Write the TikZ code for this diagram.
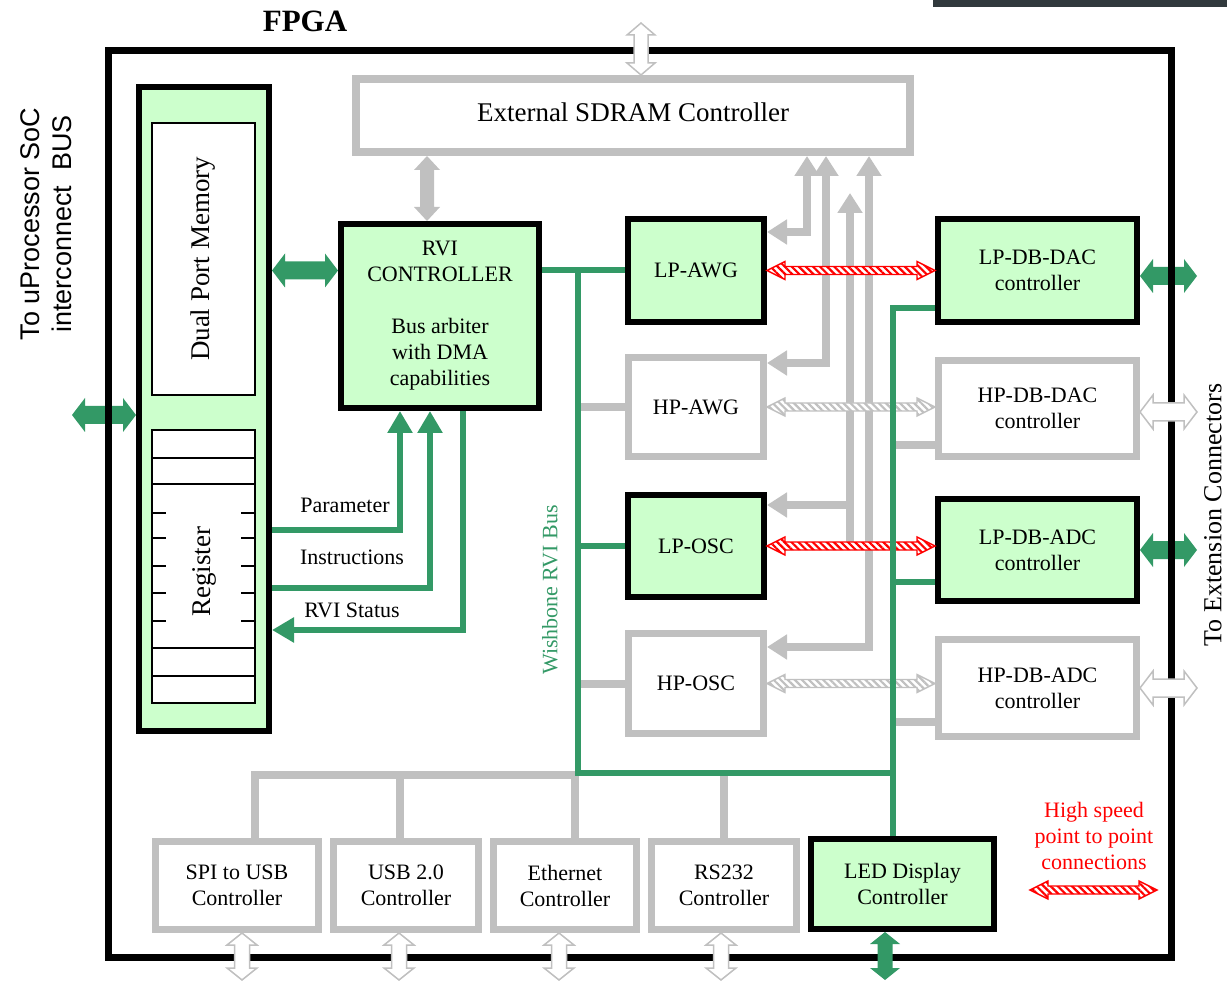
\documentclass[tikz,border=0pt]{standalone}
\usepackage{fontspec}
\setmainfont{Liberation Serif}
\newfontfamily\arialfont{Liberation Sans}
\usetikzlibrary{arrows.meta,calc,patterns.meta,backgrounds}
\definecolor{boxgreen}{HTML}{CCFFCC}
\definecolor{busgreen}{HTML}{339966}
\definecolor{linegrey}{HTML}{C0C0C0}
\definecolor{barink}{HTML}{31393D}

% fat double arrow: [style]{from}{to}{head length}{head half width}{shaft half width}
\newcommand\fatarr[6][]{%
  \coordinate (faS) at #2;
  \coordinate (faE) at #3;
  \coordinate (faA) at ($(faS)!#4!(faE)$);
  \coordinate (faB) at ($(faE)!#4!(faS)$);
  \path[#1] (faS) -- ($(faA)!#5!90:(faE)$) -- ($(faA)!#6!90:(faE)$)
    -- ($(faB)!#6!-90:(faS)$) -- ($(faB)!#5!-90:(faS)$) -- (faE)
    -- ($(faB)!#5!90:(faS)$) -- ($(faB)!#6!90:(faS)$)
    -- ($(faA)!#6!-90:(faE)$) -- ($(faA)!#5!-90:(faE)$) -- cycle;}

\begin{document}
\begin{tikzpicture}[
  x=1pt, y=-1pt,
  font=\fontsize{22}{26}\selectfont,
  lpbox/.style={draw=black, line width=6pt, fill=boxgreen, align=center, inner sep=0pt},
  hpbox/.style={draw=linegrey, line width=7pt, fill=white, align=center, inner sep=0pt},
  sz/.style 2 args={minimum width=#1pt, minimum height=#2pt},
  bus/.style={draw=busgreen, line width=6pt},
  greyln/.style={draw=linegrey, line width=8pt},
  greyarr/.style={greyln, -{Triangle[length=20pt, width=24pt]}},
  greyarrs/.style={greyln, {Triangle[length=20pt, width=24pt]}-{Triangle[length=20pt, width=24pt]}},
  busarr/.style={bus, -{Triangle[length=22pt, width=24pt]}},
  fatgreen/.style={fill=busgreen},
  fatout/.style={draw=linegrey, line width=1.5pt, fill=white},
  fatgrey/.style={fill=linegrey},
  hsarr/.style={draw=red, line width=1.4pt, preaction={fill=white},
    pattern={Lines[angle=-45, distance=5pt, line width=2.2pt]}, pattern color=red},
  hsgrey/.style={hsarr, draw=linegrey, pattern color=linegrey}
]

\useasboundingbox (0,0) rectangle (1227,981);
\fill[barink] (933,0) rectangle (1227,7);

% outside labels
\node[font=\arialfont\fontsize{27}{32}\selectfont, rotate=90, align=center] (soclbl)
  at (46,224) {To uProcessor SoC\\interconnect~ BUS};
\node[font=\fontsize{26}{30}\selectfont, rotate=90] (extlbl) at (1213,515) {To Extension Connectors};
\node[font=\bfseries\fontsize{31}{36}\selectfont] (fpgalbl) at (305,21) {FPGA};

\node[draw=black, line width=7pt, sz={1063}{906}] (fpga) at (639.5,504) {};

% memory panel
\node[lpbox, sz={130}{644}] (panel) at (204,409) {};
\node[draw=black, line width=2pt, fill=white, sz={103}{272}] (dpm) at (203.5,259) {};
\node[rotate=90, font=\fontsize{27}{30}\selectfont] (dpmtxt) at (dpm) {Dual Port Memory};
\node[draw=black, line width=2pt, fill=white, sz={103}{273}] (reg) at (203.5,566.5) {};
\foreach \y in {458,484,648,676}
  \draw[line width=2pt] (reg.west |- 0,\y) -- (reg.east |- 0,\y);
\foreach \y in {513,538,566,593,621} {
  \draw[line width=2pt] (reg.west |- 0,\y) -- ++(15,0);
  \draw[line width=2pt] (reg.east |- 0,\y) -- ++(-15,0);
}
\node[rotate=90, font=\fontsize{27}{30}\selectfont] (regtxt) at (204,572) {Register};

\node[lpbox, sz={198}{184}] (rvi) at (440,316)
  {RVI\\CONTROLLER\\[26pt]Bus arbiter\\with DMA\\capabilities};
\node[hpbox, line width=8pt, sz={554}{73}, font=\fontsize{27}{30}\selectfont] (sdram)
  at (633,115.5) {\raisebox{6pt}{External SDRAM Controller}};

% generators and daughter boards
\node[lpbox, sz={136}{103}] (lpawg) at (696,270.5) {LP-AWG};
\node[hpbox, sz={135}{99}]  (hpawg) at (696,407)   {HP-AWG};
\node[lpbox, sz={136}{102}] (lposc) at (696,546)   {LP-OSC};
\node[hpbox, sz={135}{100}] (hposc) at (696,683.5) {HP-OSC};
\node[lpbox, sz={199}{103}] (lpdac) at (1037.5,270.5) {LP-DB-DAC\\controller};
\node[hpbox, sz={198}{96}]  (hpdac) at (1037.5,408.5) {HP-DB-DAC\\controller};
\node[lpbox, sz={199}{102}] (lpadc) at (1037.5,550)   {LP-DB-ADC\\controller};
\node[hpbox, sz={198}{97}]  (hpadc) at (1037.5,688)   {HP-DB-ADC\\controller};

% peripherals
\foreach \n/\x/\w/\t in {spi/237/163/{SPI to USB\\Controller}, usb/406/145/{USB 2.0\\Controller},
                         eth/565/143/{Ethernet\\Controller}, rs/724/145/{RS232\\Controller}}
  \node[hpbox, sz={\w}{88}] (\n) at (\x,885.5) {\t};
\node[lpbox, sz={183}{90}] (led) at (902.5,884) {LED Display\\Controller};

\node (parlbl) at (345,505) {Parameter};
\node (inslbl) at (352,557) {Instructions};
\node (stslbl) at (352,610) {RVI Status};
\node[rotate=90, text=busgreen] (wblbl) at (550,590) {Wishbone RVI Bus};
\node[text=red, align=center] (hslbl) at (1094,836) {High speed\\point to point\\connections};

% grey links to SDRAM
\draw[greyarrs] (lpawg.east |- 0,232) -| (807,0 |- sdram.south);
\draw[greyarrs] (hpawg.east |- 0,363) -| (826,0 |- sdram.south);
\draw[greyarrs] (hposc.east |- 0,647) -| (869,0 |- sdram.south);
\draw[greyarr] (850,0 |- lposc.east) -- (850,193);
\draw[greyarr] (850,505) -- (lposc.east |- 0,505);

% grey bus branches
\draw[greyln] (578,0 |- hpawg.west) -- (hpawg.west);
\draw[greyln] (578,0 |- hposc.west) -- (hposc.west);
\draw[greyln] (893,445) -- (hpdac.west |- 0,445);
\draw[greyln] (893,722) -- (hpadc.west |- 0,722);
\draw[greyln] (255,0 |- spi.north) |- (578,775);
\foreach \n/\x in {usb/400, eth/575}
  \draw[greyln] (\x,775) -- (\x,0 |- \n.north);
\draw[greyln] (724,773) -- (724,0 |- rs.north);

% high speed links
\fatarr[hsarr]{(lpawg.east)}{(lpdac.west)}{18pt}{9pt}{4pt}
\fatarr[hsgrey]{(hpawg.east)}{(hpdac.west |- hpawg.east)}{18pt}{9pt}{4pt}
\fatarr[hsarr]{(lposc.east)}{(lpadc.west |- lposc.east)}{18pt}{9pt}{4pt}
\fatarr[hsgrey]{(hposc.east)}{(hpadc.west |- hposc.east)}{18pt}{9pt}{4pt}
\coordinate (hsL) at (1030,890);
\coordinate (hsR) at (1157,890);
\fatarr[hsarr]{(hsL)}{(hsR)}{18pt}{9pt}{4pt}

% Wishbone bus
\coordinate (busT) at (578,0 |- lpawg.west);
\coordinate (busB) at (578,773);
\draw[bus] (rvi.east |- lpawg.west) -- (lpawg.west);
\draw[bus] (busT) -- (busB) -- (893,773);
\draw[bus] (lpdac.west |- 0,308) -| (893,0 |- led.north);
\draw[bus] (busT |- lposc.west) -- (lposc.west);
\draw[bus] (893,582) -- (lpadc.west |- 0,582);

% register <-> controller
\draw[busarr] (panel.east |- 0,530) -| (400,0 |- rvi.south);
\draw[busarr] (panel.east |- 0,588) -| (430,0 |- rvi.south);
\draw[busarr] (463,0 |- rvi.south) |- (panel.east |- 0,630);

% fat arrows
\fatarr[fatgreen]{(panel.east |- lpawg.west)}{(rvi.west |- lpawg.west)}{13pt}{17pt}{9pt}
\fatarr[fatgrey]{(427,0 |- sdram.south)}{(427,0 |- rvi.north)}{14pt}{13pt}{7pt}
\coordinate (ddrT) at (641,23);
\fatarr[fatout]{(ddrT)}{(ddrT |- sdram.north)}{12pt}{14pt}{7pt}
\fatarr[fatout]{(hpdac.east |- 0,412)}{(1197,412)}{13pt}{17pt}{9pt}
\fatarr[fatout]{(hpadc.east |- 0,688)}{(1197,688)}{13pt}{17pt}{9pt}
\foreach \n/\x in {spi/242, usb/399, eth/559, rs/721} {
  \fatarr[fatout]{(\x,0 |- \n.south)}{(\x,980)}{12pt}{15pt}{7.5pt}
}
\fatarr[fatgreen]{(885,0 |- led.south)}{(885,980)}{12pt}{15pt}{7.5pt}

\begin{scope}[on background layer]
  \coordinate (socL) at (72,415);
  \fatarr[fatgreen]{(socL)}{(panel.west |- socL)}{13pt}{17pt}{9pt}
  \fatarr[fatgreen]{(lpdac.east |- 0,276)}{(1197,276)}{13pt}{17pt}{9pt}
  \fatarr[fatgreen]{(lpadc.east |- 0,550)}{(1197,550)}{13pt}{17pt}{9pt}
\end{scope}

\end{tikzpicture}
\end{document}
